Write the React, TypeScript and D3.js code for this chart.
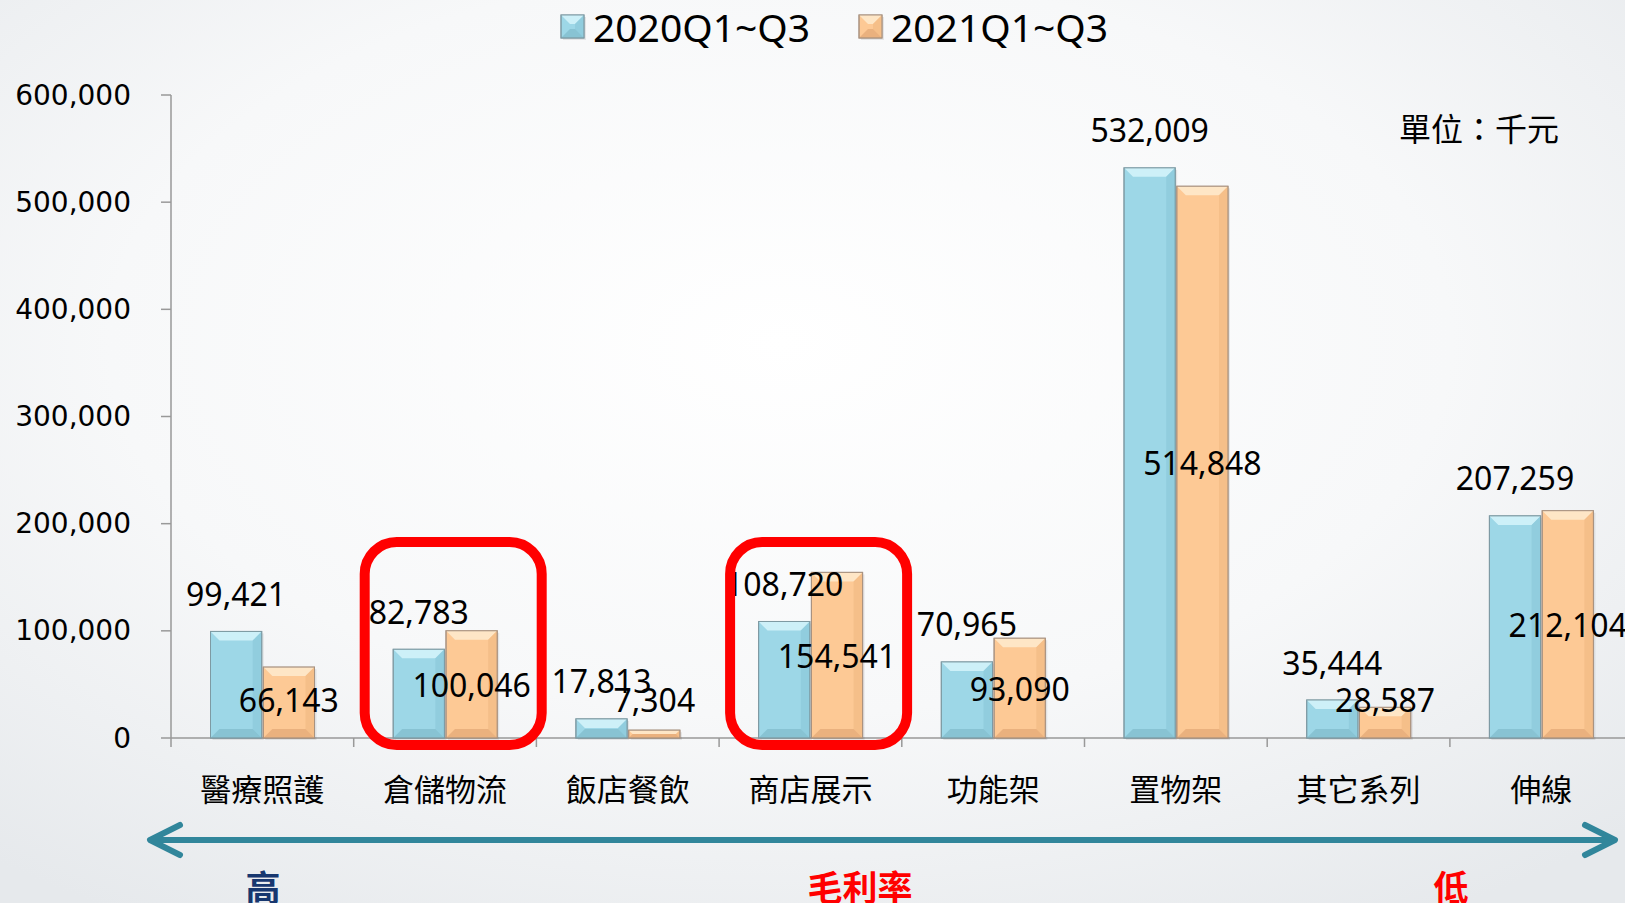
import { useEffect } from 'react';
import * as d3 from 'd3';

const categories = ['醫療照護', '倉儲物流', '飯店餐飲', '商店展示', '功能架', '置物架', '其它系列', '伸線'];
const series = ['2020Q1~Q3', '2021Q1~Q3'];
const values2020 = [99421, 82783, 17813, 108720, 70965, 532009, 35444, 207259];
const values2021 = [66143, 100046, 7304, 154541, 93090, 514848, 28587, 212104];
const yTicks = [0, 100000, 200000, 300000, 400000, 500000, 600000];
const highlighted = ['倉儲物流', '商店展示'];

const W = 1625;
const H = 903;

const palette = {
  '2020Q1~Q3': { face: '#9dd7e7', top: '#cdf0f8', side: '#8cc9da', bottom: '#79b5c6', edge: '#7e9aa3' },
  '2021Q1~Q3': { face: '#fdc995', top: '#fee6c6', side: '#f1ba84', bottom: '#dea170', edge: '#a89280' },
};

function BevelBar({ x, y, w, h, c }) {
  const b = Math.min(9, h / 2);
  const yb = y + h;
  return (
    <g>
      <rect x={x + 2} y={y + 2} width={w} height={h} fill="#000" opacity={0.08} />
      <rect x={x} y={y} width={w} height={h} fill={c.face} stroke={c.edge} strokeWidth={1} />
      <polygon points={`${x},${y} ${x + w},${y} ${x + w - b},${y + b} ${x + b},${y + b}`} fill={c.top} />
      <polygon points={`${x + w},${y} ${x + w},${yb} ${x + w - b},${yb - b} ${x + w - b},${y + b}`} fill={c.side} opacity={0.7} />
      <polygon points={`${x},${yb} ${x + w},${yb} ${x + w - b},${yb - b} ${x + b},${yb - b}`} fill={c.bottom} opacity={0.6} />
      <rect x={x} y={y} width={w} height={h} fill="none" stroke={c.edge} strokeWidth={1} />
    </g>
  );
}

export default function App() {
  useEffect(() => {
    document.body.style.margin = '0';
  }, []);

  const x = d3.scaleBand().domain(categories).range([171, 1632.6]).padding(0);
  const xs = d3.scaleBand().domain(series).range([39.5, 143.5]).paddingInner(0.03);
  const y = d3.scaleLinear().domain([0, 600000]).range([738, 95]);
  const fmt = d3.format(',');
  const y0 = y(0);

  const data = categories.map((c, i) => ({ c, v: [values2020[i], values2021[i]] }));

  return (
    <svg width={W} height={H} style={{ display: 'block' }} fontFamily="'Noto Sans', 'Noto Sans CJK TC', sans-serif">
      <defs>
        <radialGradient id="bg" cx="48%" cy="38%" r="75%">
          <stop offset="0%" stopColor="#ffffff" />
          <stop offset="55%" stopColor="#f7f8f9" />
          <stop offset="100%" stopColor="#e6e9ec" />
        </radialGradient>
      </defs>
      <rect width={W} height={H} fill="url(#bg)" />

      {/* legend */}
      {series.map((s, i) => {
        const lx = [561, 859][i];
        const c = palette[s];
        return (
          <g key={s}>
            <BevelBar x={lx} y={15} w={23} h={23} c={c} />
            <text x={lx + 32} y={26} dominantBaseline="central" fontSize={39} fill="#000">{s}</text>
          </g>
        );
      })}

      {/* y axis */}
      <line x1={171} x2={171} y1={y(600000)} y2={y0} stroke="#999" strokeWidth={1.5} />
      {yTicks.map((t) => (
        <g key={t}>
          <line x1={161} x2={171} y1={y(t)} y2={y(t)} stroke="#999" strokeWidth={1.5} />
          <text x={131} y={y(t)} dominantBaseline="central" textAnchor="end" fontSize={28} fontFamily="'DejaVu Sans', sans-serif" fill="#000">
            {fmt(t)}
          </text>
        </g>
      ))}

      {/* x axis */}
      <line x1={171} x2={W} y1={y0} y2={y0} stroke="#999" strokeWidth={1.5} />
      {categories.map((c) => (
        <line key={c} x1={x(c)} x2={x(c)} y1={y0} y2={y0 + 9} stroke="#999" strokeWidth={1.5} />
      ))}
      {categories.map((c) => (
        <text key={c} x={x(c) + x.bandwidth() / 2} y={787} textAnchor="middle" dominantBaseline="central" fontSize={31} fontFamily="'Noto Sans CJK TC', sans-serif" fill="#000">
          {c}
        </text>
      ))}

      {/* bars */}
      {data.map((d) => (
        <g key={d.c}>
          {series.map((s, j) => (
            <BevelBar key={s} x={x(d.c) + xs(s)} y={y(d.v[j])} w={xs.bandwidth()} h={y0 - y(d.v[j])} c={palette[s]} />
          ))}
        </g>
      ))}

      {/* value labels */}
      {data.map((d) => (
        <g key={d.c} fontSize={32} fill="#000">
          <text x={x(d.c) + xs(series[0]) + xs.bandwidth() / 2} y={y(d.v[0]) - 38} textAnchor="middle" dominantBaseline="central">
            {fmt(d.v[0])}
          </text>
          <text x={x(d.c) + xs(series[1]) + xs.bandwidth() / 2} y={Math.min((y(d.v[1]) + y0) / 2, y0 - 39)} textAnchor="middle" dominantBaseline="central">
            {fmt(d.v[1])}
          </text>
        </g>
      ))}

      {/* highlight boxes */}
      {highlighted.map((c) => (
        <rect key={c} x={x(c) + 11} y={542} width={177} height={203} rx={32} fill="none" stroke="#ff0000" strokeWidth={10} />
      ))}

      <text x={1399} y={127} dominantBaseline="central" fontSize={32} fontFamily="'Noto Sans CJK TC', sans-serif" fill="#000">單位：千元</text>

      {/* margin arrow */}
      <g stroke="#31869b" strokeWidth={6} fill="none" strokeLinecap="round" strokeLinejoin="round">
        <line x1={151} x2={1614} y1={840} y2={840} />
        <polyline points="180,825 150,840 180,855" />
        <polyline points="1585,825 1615,840 1585,855" />
      </g>
      <g fontFamily="'Noto Sans CJK TC', sans-serif" fontWeight="bold" fontSize={35} textAnchor="middle" dominantBaseline="central">
        <text x={263} y={885} fill="#17376f">高</text>
        <text x={860} y={885} fill="#ff0000">毛利率</text>
        <text x={1451} y={885} fill="#ff0000">低</text>
      </g>
    </svg>
  );
}
